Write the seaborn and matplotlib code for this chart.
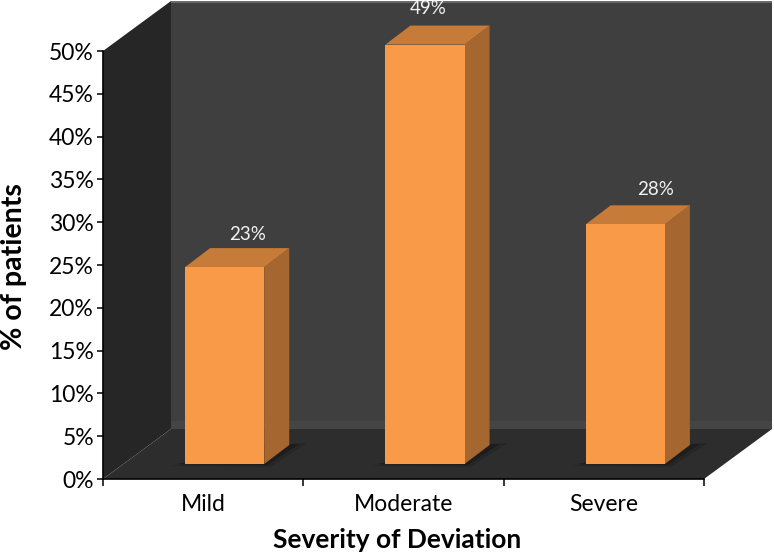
import matplotlib
matplotlib.use("Agg")
import matplotlib.pyplot as plt
import seaborn as sns
from matplotlib.patches import Polygon
from matplotlib.ticker import FuncFormatter

categories = ["Mild", "Moderate", "Severe"]
patients_pct = [23, 49, 28]
y_ticks = [0, 5, 10, 15, 20, 25, 30, 35, 40, 45, 50]

WALL, SIDE, FLOOR = "#3f3f3f", "#262626", "#2d2d2d"
FRONT, RIGHT, TOP = "#f99a48", "#a5672f", "#c67b38"

sns.set_theme(style="white")
plt.rcParams["font.family"] = ["Lato", "DejaVu Sans"]

W, H = 774, 557
fig = plt.figure(figsize=(W / 100, H / 100), dpi=100, facecolor="white")
ax = fig.add_axes([103 / W, (H - 479) / H, 601 / W, 428 / H])
ax.patch.set_visible(False)

sns.barplot(x=categories, y=patients_pct, color=FRONT, saturation=1, width=0.395,
            ax=ax, zorder=5, linewidth=0)
ax.set_xlim(-0.5, 2.5)
ax.set_ylim(0, 50)

# pixel <-> data scale
ux = 3 / 601
uy = 50 / 428

# walls and floor of the chart box, in axes fractions
ddx, ddy = 68 / 601, 50 / 428
def box(pts, c, z=1):
    ax.add_patch(Polygon(pts, closed=True, fc=c, ec="none", transform=ax.transAxes,
                         clip_on=False, zorder=z))
box([(ddx, ddy), (1 + ddx, ddy), (1 + ddx, 1 + ddy), (ddx, 1 + ddy)], WALL)
box([(ddx, ddy), (1 + ddx, ddy), (1 + ddx, ddy + 0.018), (ddx, ddy + 0.018)], "#454545", 1.1)
box([(ddx, 1 + ddy), (1 + ddx, 1 + ddy), (1 + ddx, 1 + ddy - 0.004), (ddx, 1 + ddy - 0.004)], "#6a6a6a", 1.1)
box([(0, 0), (ddx, ddy), (ddx, 1 + ddy), (0, 1)], SIDE, 1.2)
box([(0, 0), (1, 0), (1 + ddx, ddy), (ddx, ddy)], FLOOR, 1.3)

# raise the bars onto the floor and extrude them
shift_x, shift_y = 21.5 * ux, 15 * uy
bar_dx, bar_dy = 25 * ux, 19 * uy
label_offsets = [(23, 33), (3, 36), (30, 35)]
for bar, val, off in zip(ax.patches, patients_pct, label_offsets):
    bar.set_x(bar.get_x() + shift_x)
    bar.set_y(shift_y)
    bar.set_clip_on(False)
    x0, x1 = bar.get_x(), bar.get_x() + bar.get_width()
    y0, y1 = shift_y, shift_y + bar.get_height()
    for pts, c, z, a in [
        ([(x0 - 14 * ux, y0 - 2 * uy), (x1 + 6 * ux, y0 - 3 * uy), (x1 + bar_dx + 18 * ux, y0 + bar_dy + 2 * uy), (x1, y0 + bar_dy)], "#222222", 2, 0.6),
        ([(x0 - 8 * ux, y0), (x1 + 3 * ux, y0 - 1 * uy), (x1 + bar_dx + 10 * ux, y0 + bar_dy + 1 * uy), (x1, y0 + bar_dy)], "#1c1c1c", 2.1, 0.9),
        ([(x1, y0), (x1 + bar_dx, y0 + bar_dy), (x1 + bar_dx, y1 + bar_dy), (x1, y1)], RIGHT, 4, 1),
        ([(x0, y1), (x0 + bar_dx, y1 + bar_dy), (x1 + bar_dx, y1 + bar_dy), (x1, y1)], TOP, 4, 1),
    ]:
        ax.add_patch(Polygon(pts, closed=True, fc=c, ec="none", alpha=a, clip_on=False, zorder=z))
    ax.annotate(f"{val}%", xy=((x0 + x1) / 2, y1), xytext=(off[0] * 0.72, off[1] * 0.72),
                textcoords="offset points", ha="center", va="center",
                color="#f2f2f2", fontsize=13.5, annotation_clip=False, zorder=6)

# axes
for s in ["top", "right"]:
    ax.spines[s].set_visible(False)
for s in ["left", "bottom"]:
    ax.spines[s].set_visible(True)
    ax.spines[s].set_color("black")
    ax.spines[s].set_linewidth(1.2)
    ax.spines[s].set_zorder(7)

ax.set_yticks(y_ticks)
ax.yaxis.set_major_formatter(FuncFormatter(lambda v, _: f"{v:.0f}%"))
ax.set_xticks([-0.5, 0.5, 1.5, 2.5], labels=[""] * 4)
ax.set_xticks([0, 1, 2], labels=categories, minor=True)
ax.tick_params(axis="y", which="major", left=True, length=4.5, width=1.1, color="black",
               labelsize=16.5, labelcolor="black", pad=2)
ax.tick_params(axis="x", which="major", bottom=True, length=5, width=1.1, color="black")
ax.tick_params(axis="x", which="minor", bottom=False, length=0, labelsize=16.5,
               labelcolor="black", pad=11)

ax.set_xlabel("Severity of Deviation", fontsize=19, fontweight="bold", color="black")
ax.xaxis.set_label_coords(294 / 601, -61 / 428)
ax.xaxis.label.set_verticalalignment("center")
ax.set_ylabel("% of patients", fontsize=20.5, fontweight="bold", color="black")
ax.yaxis.set_label_coords(-89 / 601, 212 / 428)
ax.yaxis.label.set_verticalalignment("center")

fig.savefig("out.png", dpi=100)
